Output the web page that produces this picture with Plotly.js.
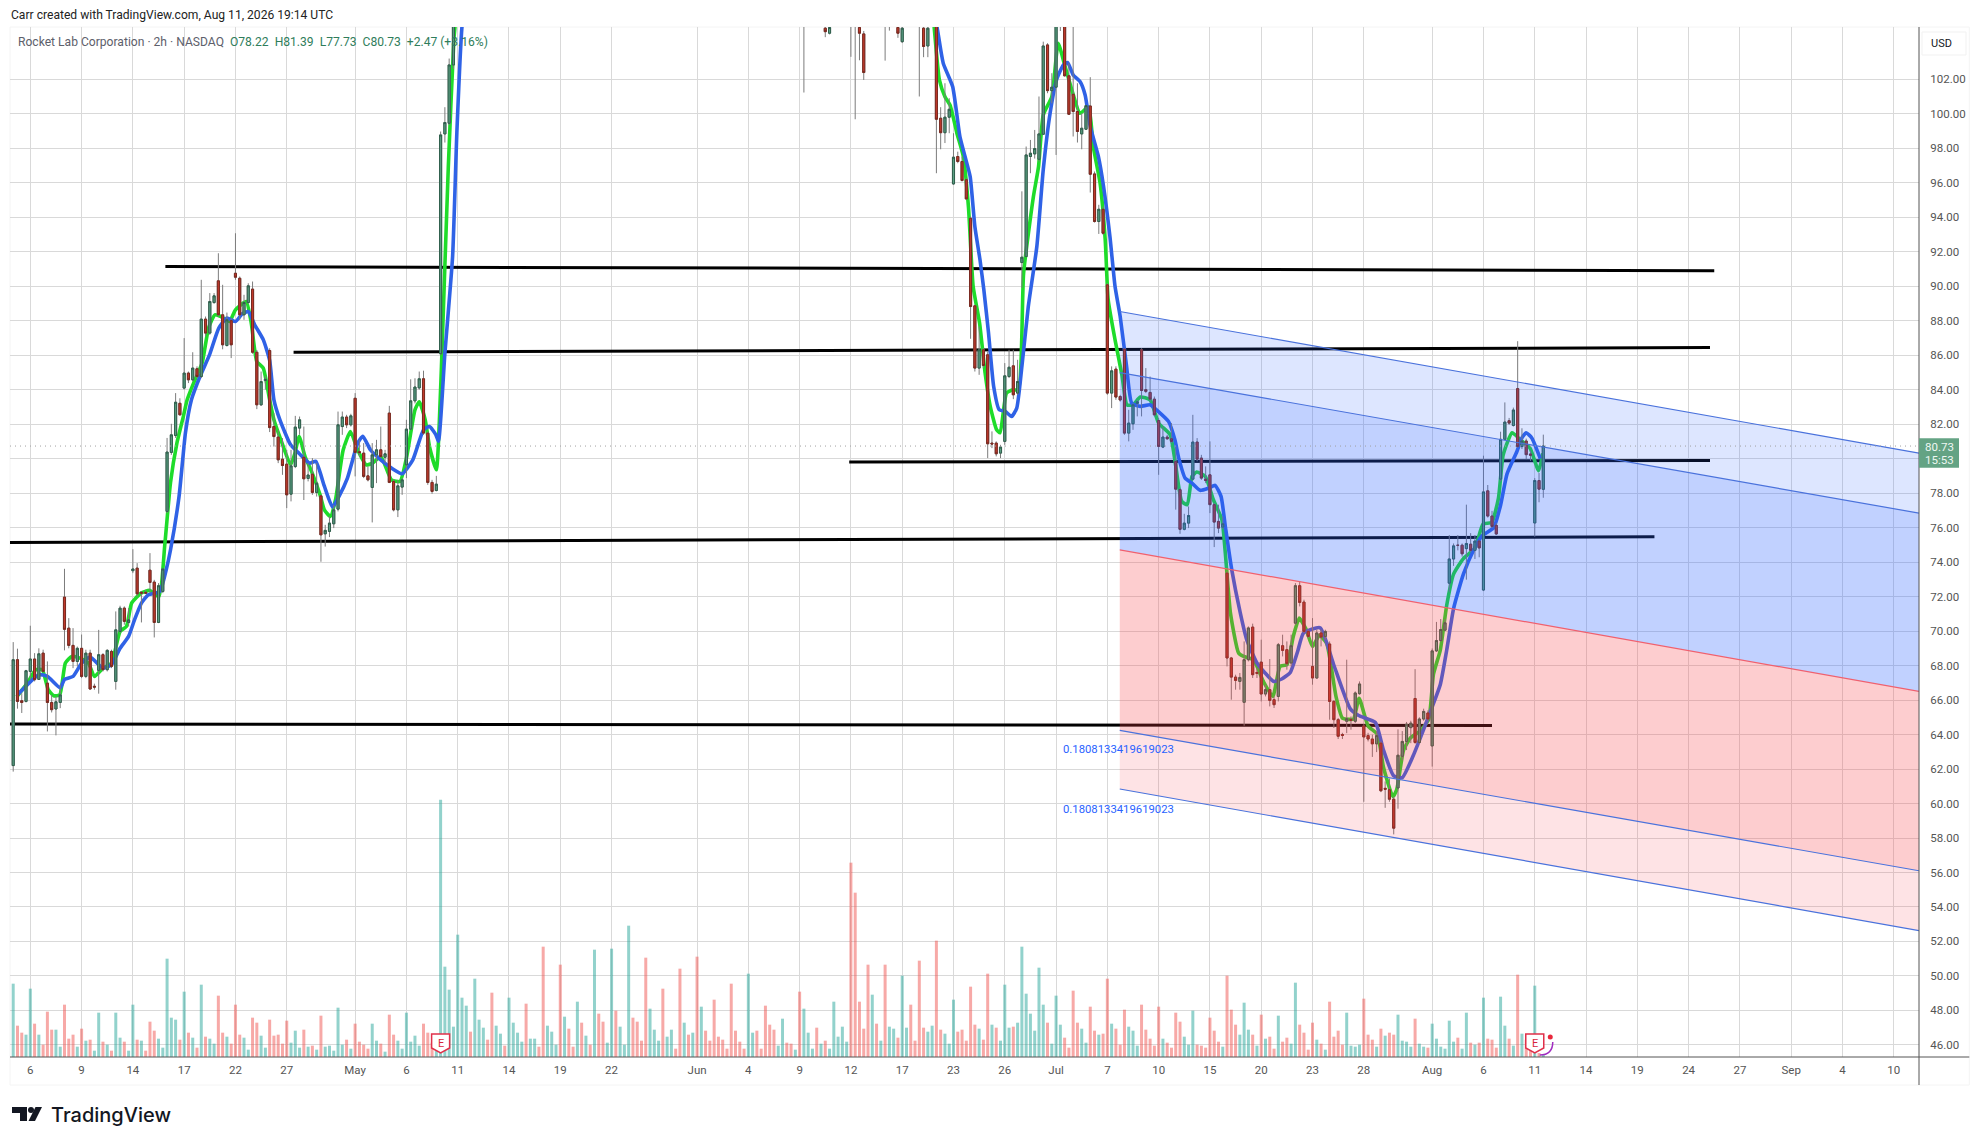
<!DOCTYPE html>
<html><head><meta charset="utf-8">
<script src="https://cdn.plot.ly/plotly-3.0.1.min.js"></script>
<style>html,body{margin:0;padding:0;background:#fff}</style></head>
<body><div id="chart" style="width:1980px;height:1145px"></div>
<script>
const _ = null;
// Bars 104-184 and other gaps sit above the visible price window: null = not readable.
const open = [
62.2,68.34,65.96,65.92,67.66,68.38,67.2,68.72,66.98,65.86,
65.48,65.86,71.97,70.17,69.17,68.24,69,67.37,68.72,66.8,
67.72,68.63,67.76,68.82,67.08,69.98,71.33,70.5,73.5,73.65,
72.25,72.25,73.53,72.84,70.5,72.3,76.94,80.36,81.34,83.21,
84.09,84.96,84.57,85.21,84.76,88.09,87.28,89.05,90.31,88.34,
86.56,88.0,90.75,90.46,88.34,89.05,89.83,86.17,83.12,84.53,
86.27,81.86,81.25,79.97,79.68,77.94,79.54,81.77,80.08,78.85,
79.1,78.04,77.84,75.64,75.78,76.22,77.07,81.86,82.41,81.96,
83.5,80.4,80.32,79.0,78.33,80.22,80.51,80.08,82.64,78.68,
77.03,78.35,79.64,81.71,83.35,84.1,84.63,81.48,78.62,78.15,
86.08,98.83,99.45,102.83,_,_,_,_,_,_,
_,_,_,_,_,_,_,_,_,_,
_,_,_,_,_,_,_,_,_,_,
_,_,_,_,_,_,_,_,_,_,
_,_,_,_,_,_,_,_,_,_,
_,_,_,_,_,_,_,_,_,_,
_,_,_,_,_,_,_,_,_,_,
_,_,_,_,_,_,_,_,_,_,
_,_,_,_,_,107,_,_,_,_,
104.96,104.67,_,_,_,_,106.5,106.5,105,104.63,
_,_,_,_,106,106,_,105,104.18,_,
_,_,106,104.96,103.93,_,105.4,99.74,98.9,99.8,
95.93,97.52,97.23,96.17,93.94,88.86,85.25,86.31,86.02,80.9,
80.9,80.32,81.0,84.76,85.38,83.8,91.37,91.72,97.52,97.67,
97.36,98.81,103.99,101.34,101.54,105.2,105.4,102.2,101.13,100.13,
98.83,99.1,100.45,96.51,93.75,94.46,90.08,83.8,85.19,83.6,
86.35,81.48,82.02,83.2,86.31,84.0,83.84,83.45,82.21,80.67,
81.25,81.15,79.84,78.2,75.9,76.26,78.81,80.96,80.03,78.81,
79.06,77.33,76.36,76.03,73.36,68.44,67.33,67.08,65.87,68.34,
70.23,67.6,68.2,66.35,66.6,66.02,66.21,69.15,68.92,68.15,
70.46,72.63,71.68,69.98,67.95,67.28,69.89,69.69,69.25,65.92,
64.86,64.0,64.77,64.88,64.77,66.37,64.5,63.94,63.74,63.46,
63.5,60.88,60.8,60.25,60.9,62.74,63.6,64.4,66.09,63.54,
64.9,65.25,63.34,68.85,69.45,70.05,72.78,74.18,74.98,74.98,
74.78,75.04,74.68,75.22,72.38,78.13,76.67,76.13,78.81,81.12,
82.2,81.92,84.06,80.7,81.02,80.27,76.27,78.73,78.22];
const high = [
69.36,68.98,66.4,67.75,70.31,68.72,69.0,68.92,68.24,66.3,
66.2,66.9,73.61,70.75,70.17,69.1,69.8,68.92,68.92,66.95,
70.07,68.72,68.95,68.92,71.14,71.47,71.43,71.33,74.75,73.94,
72.3,72.4,74.52,72.97,72.78,73.65,81.2,82.02,83.8,83.5,
86.99,85.05,86.17,85.35,90.37,88.24,89.6,89.6,91.91,90.08,
88.47,88.15,93.07,90.56,89.5,90.17,90.27,86.3,85.05,84.8,
86.4,82.64,81.67,81.19,80.51,80.51,82.48,82.44,81.86,79.74,
80.03,79.74,77.9,76.16,76.65,77.32,82.73,82.73,82.54,82.6,
83.8,81.09,80.9,79.55,80.9,81.09,81.86,80.51,83.06,78.81,
78.77,78.87,82.25,84.6,84.66,85.05,85.1,81.57,78.77,79.0,
98.97,100.38,103.2,106,_,_,_,_,_,_,
_,_,_,_,_,_,_,_,_,_,
_,_,_,_,_,_,_,_,_,_,
_,_,_,_,_,_,_,_,_,_,
_,_,_,_,_,_,_,_,_,_,
_,_,_,_,_,_,_,_,_,_,
_,_,_,_,_,_,_,_,_,_,
_,_,_,_,_,_,_,_,_,_,
_,_,_,_,_,108,_,_,_,_,
106,105.8,_,_,_,_,108,108,106,104.8,
_,_,_,_,107,107,_,106,106,_,
_,_,107,106,106,_,106,100.38,101.77,100.9,
98.87,97.8,97.52,96.26,94.04,88.92,87.66,86.4,86.22,81.58,
81.0,80.8,85.54,86.31,86.31,85.73,95.5,98.1,98.48,99.06,
101,104.18,104.09,102.35,106,106,106,102.93,106,101.77,
100.03,100.51,102.12,96.65,94.72,94.62,90.17,85.35,85.35,83.7,
86.4,82.83,83.22,83.41,86.4,85.25,84.76,83.6,82.35,81.86,
81.38,82.06,80.71,78.29,76.8,77.23,82.54,81.19,80.22,79.55,
81.0,77.42,77.33,76.65,73.46,68.5,67.47,67.57,69.4,70.27,
70.43,67.86,69.5,66.89,68.38,66.21,69.31,69.79,69.4,69.79,
72.78,72.88,71.82,70.08,70.75,70.08,70.08,70.08,69.4,66.0,
64.96,64.1,68.34,65.05,66.5,67.08,64.6,64.1,63.99,64.2,
63.6,61.28,61.45,60.4,64.3,64.2,64.73,64.8,67.79,65.0,
65.5,65.4,68.99,70.53,70.7,70.7,75.57,75.08,75.57,75.08,
77.33,75.68,75.57,75.28,80.17,78.47,76.97,76.27,81.56,83.26,
82.36,82.96,86.81,81.76,81.16,80.46,78.87,79.17,81.39];
const low = [
61.85,65.5,65.25,65.86,67.2,67.08,67.18,67.6,64.18,65.28,
63.95,65.53,68.88,69.0,67.85,67.95,67.27,67.27,66.6,66.6,
66.37,67.66,67.66,67.85,66.6,69.88,70.37,70.27,73.36,72.0,
70.5,72.16,72.2,69.63,70.46,72.2,76.84,80.22,81.2,82.5,
84.0,84.38,84.48,84.67,84.67,87.08,87.18,88.98,88.24,86.34,
86.5,85.83,90.37,88.05,88.05,88.98,86.08,82.87,83.06,84.0,
81.54,80.7,79.74,79.06,77.13,77.52,79.45,81.38,77.6,78.68,
77.9,77.8,74.02,74.9,75.45,75.97,76.94,81.38,81.77,81.86,
78.97,80.12,78.87,78.68,76.3,78.58,80.03,79.74,78.58,76.94,
76.61,77.9,78.87,81.67,83.2,84.0,81.38,78.48,77.96,78.1,
86.02,98.33,99.35,102.6,_,_,_,_,_,_,
_,_,_,_,_,_,_,_,_,_,
_,_,_,_,_,_,_,_,_,_,
_,_,_,_,_,_,_,_,_,_,
_,_,_,_,_,_,_,_,_,_,
_,_,_,_,_,_,_,_,_,_,
_,_,_,_,_,_,_,_,_,_,
_,_,_,_,_,_,_,_,_,_,
_,_,_,_,_,101.23,_,_,_,_,
104.44,104.6,_,_,_,_,103.3,99.68,103.1,101.96,
_,_,_,_,103.08,104.82,_,104.4,104.1,_,
_,_,101,103.28,103.28,_,96.55,97.94,98.3,98.87,
95.88,97.13,96.07,95.0,86.95,85.05,84.86,85.25,80.03,80.61,
80.13,80.03,80.8,84.67,83.45,83.7,89.9,91.68,96.55,97.4,
97.23,98.77,101.19,100.6,97.61,104.8,102.16,99.93,98.68,98.33,
97.94,99.06,95.43,93.69,93.03,92.98,83.7,82.93,83.41,83.31,
81.38,81.0,81.67,82.45,82.45,83.8,83.31,82.45,79.06,80.61,
81.1,80.9,77.04,75.64,75.84,75.97,78.73,79.84,78.77,78.58,
76.84,74.87,75.68,75.91,67.95,66.02,66.6,66.6,64.51,68.24,
67.28,67.28,65.92,66.21,65.63,65.54,65.92,68.53,67.76,67.95,
70.37,71.43,69.89,69.6,66.89,67.22,69.11,69.5,64.86,64.38,
63.74,63.74,64.08,64.28,64.67,66.31,60.1,63.6,62.7,62.98,
60.66,59.75,60.1,58.21,59.7,62.5,63.1,63.5,63.46,63.46,
64.8,64.8,62.14,68.79,69.39,70.0,72.28,73.78,74.68,74.32,
72.98,74.58,74.18,74.28,72.32,76.58,75.97,75.57,78.67,81.06,
81.96,81.86,80.62,80.56,79.97,79.87,75.47,77.47,77.73];
const close = [
68.34,65.92,65.86,67.7,68.38,67.18,68.68,67.66,65.86,65.44,
65.9,66.3,70.1,69.17,68.24,69.0,67.37,68.72,66.64,66.75,
68.63,67.76,68.88,67.95,70.07,71.33,70.56,70.65,73.6,72.16,
72.2,72.2,72.82,70.5,72.63,73.6,80.38,81.38,83.27,82.54,
84.96,84.57,85.25,84.76,88.09,87.28,89.11,89.44,88.34,86.6,
88.05,86.6,90.52,88.34,89.05,90.02,86.17,83.12,84.47,84.6,
81.8,81.28,79.93,79.6,77.9,79.58,81.83,82.25,78.83,79.05,
78.04,78.58,75.58,75.84,76.26,77.03,81.96,82.41,81.96,82.48,
80.36,80.35,78.97,78.77,80.22,80.51,80.12,80.28,78.62,77.03,
78.42,78.77,81.71,83.35,84.15,84.63,81.48,78.62,78.1,78.52,
98.77,99.49,102.83,105.6,_,_,_,_,_,_,
_,_,_,_,_,_,_,_,_,_,
_,_,_,_,_,_,_,_,_,_,
_,_,_,_,_,_,_,_,_,_,
_,_,_,_,_,_,_,_,_,_,
_,_,_,_,_,_,_,_,_,_,
_,_,_,_,_,_,_,_,_,_,
_,_,_,_,_,_,_,_,_,_,
_,_,_,_,_,106.5,_,_,_,_,
104.76,105.0,_,_,_,_,107,106,104.67,102.39,
_,_,_,_,106.4,105.8,_,104.67,104.96,_,
_,_,106.3,103.9,104.96,_,99.68,98.9,99.8,100.26,
97.48,97.23,96.13,95.06,88.82,85.25,86.31,85.4,80.86,80.85,
80.28,80.67,84.8,85.3,83.7,84.47,91.68,97.61,97.71,97.98,
98.83,103.93,101.34,101.54,105.4,105.6,102.2,99.97,100.13,98.97,
99.16,100.47,96.49,93.75,94.46,93.07,83.8,85.09,83.57,83.4,
81.48,82.06,83.12,83.3,83.95,83.9,83.45,82.54,80.71,81.25,
81.15,81.0,78.23,75.9,76.26,76.7,80.96,79.97,78.87,78.73,
77.33,76.32,75.97,76.22,68.44,67.33,67.14,67.31,68.34,70.18,
67.47,67.55,66.35,66.6,65.98,65.73,69.21,68.88,68.11,69.15,
72.63,71.66,69.98,69.69,67.28,69.89,69.65,69.98,65.92,64.86,
63.9,63.95,64.92,64.83,66.41,66.93,63.86,63.74,63.46,63.94,
60.74,60.83,60.25,58.57,62.8,63.6,64.6,64.66,63.54,64.9,
65.34,64.9,68.85,69.45,70.09,70.48,74.18,74.94,74.97,74.48,
75.08,74.68,75.22,74.82,78.07,76.67,76.07,75.63,81.12,82.12,
82.06,82.82,80.7,81.02,80.23,80.2,78.73,78.23,80.73];
// Volume in millions of shares
const volume = [
2.20,.94,.73,.67,2.05,1.00,.67,.37,1.36,.82,
.82,.31,1.57,.55,.67,.31,.85,.49,.52,.19,
1.33,.46,.37,.19,1.33,.58,.46,.19,1.57,.52,
.49,.19,1.06,.79,.55,.28,2.95,1.18,1.12,.52,
1.96,.73,.58,.28,2.17,.61,.55,.40,1.84,.73,
.61,.40,1.57,.67,.58,.22,1.18,1.03,.64,.28,
1.12,.64,.67,.40,1.09,.43,.79,.28,.82,.31,
.34,.22,1.24,.31,.34,.19,1.48,.37,.52,.25,
1.00,.46,.37,.25,1.00,.49,.40,.16,1.27,.67,
.49,.25,1.33,.46,.64,.34,1.00,.73,.43,.42,
7.72,2.71,2.02,.91,3.67,1.78,1.54,.76,2.35,1.12,
.88,.52,1.93,.94,.70,.34,1.78,1.03,.73,.46,
1.60,.55,.55,.31,3.31,.94,.76,.37,2.77,1.21,
.85,.31,1.66,1.03,.64,.37,3.22,1.30,1.06,.43,
3.25,1.39,.91,.37,3.94,1.18,1.06,.49,2.98,1.45,
.82,.49,2.05,.61,.82,.25,2.65,1.03,.67,.73,
3.01,1.51,.79,.49,1.72,.61,.52,.25,2.20,.79,
.46,.25,2.50,.73,.79,.25,1.54,.97,.82,.34,
1.15,.43,.40,.22,1.96,1.45,.73,.25,.88,.40,
.49,.25,1.66,.61,.91,.46,5.83,4.93,1.66,.85,
2.77,1.87,1.00,.49,2.77,.91,.85,.58,2.44,.88,
1.57,.49,2.89,.88,.76,.94,3.49,.82,.70,.40,
1.72,.76,.82,.49,2.11,.97,.85,.52,2.50,.97,
.88,.49,2.17,.88,.91,1.03,3.31,1.90,1.30,.79,
2.68,1.57,1.03,.40,1.84,.97,.58,.28,1.99,1.03,
.85,.43,1.51,.79,.67,.70,2.35,1.00,.85,.37,
1.42,.91,.79,.34,1.57,.82,.55,.34,1.51,.55,
.43,.28,1.33,1.06,.61,.37,1.39,.37,.34,.28,
1.18,.79,.46,.31,2.44,1.42,.97,.67,1.63,.82,
.67,.34,1.27,.55,.61,.25,1.24,.46,.58,.40,
2.23,.97,.73,.22,1.03,.52,.40,.22,1.66,.61,
.79,.37,1.33,.34,.31,.37,1.75,.67,.52,.31,
.85,.64,.73,.67,1.27,.49,.46,.31,1.15,.40,
.31,.28,1.00,.55,.31,.25,1.09,.46,.58,.25,
1.33,.43,.37,.43,1.78,.55,.52,.28,1.81,.94,
.55,.34,2.47,.70,.52,.42,2.14,.12,.07];
const volumeDir = (
"grrggrgrrr"+"ggrrrgrgrg"+"grgrggrggr"+"grrrgggggr"+"grgrgrggrr"+"grrrggrrgg"+"rrrrrgggrg"+"rgrgggggrg"+"rrrrggrgrr"+"ggggggrrrg"+
"gggggggrgg"+"grrggrgggg"+"rggrrgggrg"+"rrgrgrgrrg"+"grgggrrrrg"+"ggrggrrgrg"+"rgrrrrrrrr"+"rrggrrrrrg"+"grrgrgggrg"+"rgggggrrrr"+
"rgrgrggrgg"+"rrrrggrrgg"+"grrrrrgrrg"+"rgggrggggg"+"ggrgggrrrr"+"ggrrgrrgrr"+"rgggrrrrrg"+"rrrrgggrrr"+"rrrgrrrggg"+"rgrgrrgrrg"+
"grrrrgrgrr"+"rrggggrrrg"+"rgrrggggrg"+"grggggggrg"+"grgrgrrrgg"+"rgrgrrgrg").split("");

// Short moving average, read point by point: [bar index], [price]
const greenX = [0.85,3.3,5.3,6.8,8.2,9.5,10.9,12.2,13.7,15.6,17.6,19,21,23,25,26.5,27.7,29.9,31.9,34.1,35.5,36.8,38.3,39.8,40.7,42.2,44.2,45.7,47.2,48.6,50.6,52,54.5,55.7,57,58.5,60,61,62.9,64.9,65.9,66.9,68.3,69.8,71.8,72.8,74.2,75.4,77.2,78.9,80.6,82.6,84.1,86,88.5,90.5,92,94,95,96.4,97.4,99,99.9,100.2,101.8,103.1,103.5,104.5,214.5,215.5,216.7,218,219.2,220.8,222.3,223.5,224.6,226.1,227.4,228.6,230.1,230.9,232.4,233.9,235.2,236.4,238.7,239.9,241,243,244.5,245.9,247.7,249.6,251.6,252.7,254.3,255.5,256.2,257.8,259.4,260.6,262,263.7,266,268,270.7,271.9,273.4,274.7,275.8,276.9,278.9,280.8,282.8,283.6,284.8,286.7,287.9,290.2,292.5,294.7,296.4,298,299.5,300.9,302.5,304,305.6,307.3,309.5,311,312.5,313.6,314.9,317,319.2,320.6,322.8,323.7,325.3,326.9,329.2,331.2,332.3,333.9,335.4,337,339.3,342,343.9,345.9,347.5,348.6,350.7,352.6,354.9,356.9,357.9];
const greenY = [66.2,66.98,67.76,67.76,66.6,66.25,66.3,68.14,68.53,68.43,68.14,67.37,67.85,68.14,69.98,70.27,71.62,72.2,72.36,72,75.1,78.6,80.9,82.44,83.41,84.38,85.54,87.57,88.34,88.24,87.95,88.63,89.11,87.86,85.63,85.25,83.41,82.25,80.9,79.64,80.3,81.28,80.1,79.26,77.9,77.03,76.65,77.6,80.5,81.57,80.5,79.64,79.74,80.12,78.77,78.68,80.03,82.83,83.3,82.25,80.7,79.35,83.41,85.35,96.9,104.3,105.4,108,108,104.96,101.96,100.99,100.5,98.87,97.52,94.6,89.98,87.86,84.96,83.03,81.67,81.5,83.8,83.99,83.99,90.75,95.2,96.94,99.93,100.99,104.09,102.93,101.38,100.03,100.4,98.1,95.97,92.69,89.2,86.89,84.86,83.12,83.12,83.57,83.41,82.06,81.38,79.74,77.52,77.33,78.97,79.22,78.97,77.62,76.46,74.52,71.05,68.73,68.53,68.34,67.08,66.21,67.95,68.05,69.69,70.75,70.1,69.1,69.75,69.3,66.2,64.95,64.88,64.9,66.1,64.5,64,62.1,60.4,60.8,63.1,63.8,64.2,64.9,67.5,68.9,71.5,73.3,74.2,74.8,76.2,76.3,77.7,80.2,81.5,81.1,80.6,79.3,80.3];
// Long moving average
const blueX = [1,6,8,11,12,14,16,18,21,23,25,27,28.4,30,31.6,34.3,35.8,36.8,38.8,40.3,41.7,43.7,45.9,48.1,50,52,53.6,55,56.5,58.5,60,61,62.4,64.9,66.9,69.3,70.8,72.8,74.7,76.2,78.2,80.6,81.8,83.6,86,88.5,91,93.5,96,97.4,98.9,99.5,101,102.8,103.8,105,106.5,214,216.2,217.6,219.8,221.5,222.7,223.9,225,226.2,227.1,228.2,229.4,230.7,232.1,233.6,234.8,236,237.5,239.5,241,242.6,244.1,245.7,246.7,248,249.6,250.8,252,253.9,255.1,256.6,257.8,259,260.5,261.7,263.7,266,267.9,270.3,271.8,272.7,274.2,275.8,277.7,279.7,281.2,282.6,283.6,285.1,287.1,288.6,291,292.9,294.9,296.8,298.8,300.5,301.9,305.8,308.9,312.8,314.8,318.7,320.6,323,325,327.6,330,332,333.9,335.4,337,339.3,341.7,343.6,346.4,348,349.5,351.8,353,354,355.3,357.3];
const blueY = [66.3,67.47,67.37,66.7,67.2,67.37,68.14,68.49,67.85,68.05,69,69.69,70.66,71.62,72.1,72.3,73.56,74.7,77.8,81.5,83.41,84.76,86,87.57,88.15,87.95,88.4,88.53,87.76,86.9,85.7,83.41,82.25,80.8,80.3,79.74,79.84,78.4,77.2,77.8,78.87,80.9,81.3,80.5,79.93,79.45,79.12,79.93,81.67,81.86,81.38,81,86.1,91.7,98.9,105.05,108,108,104.96,102.93,101.58,98.68,97.52,96.36,93.46,91.53,89.79,87.28,84.18,82.83,82.74,82.44,82.93,85.34,88.82,92.3,96.75,100.03,101.96,102.83,102.97,102.25,101.87,101.09,99.26,97.52,95.8,92.88,89.98,88.24,85.34,83.22,83.03,83.12,82.74,82.16,81.09,80.03,78.87,78.58,78.16,78.29,78.45,77.81,76.07,73.56,71.05,69.5,68.15,67.57,67.08,67.22,67.6,68.8,69.89,70.19,68.09,65.5,65.1,64.7,63.1,61.6,61.5,62.8,64.3,65.6,66.9,68.9,71.3,73.3,74.7,75.5,76,77.3,79.1,80.4,81.2,81.5,81.2,80];

// Hand-drawn horizontal trend lines: [start bar, end bar], [start price, end price]
const trendLines = [
  {x:[35.6,398],  y:[91.14,90.9]},
  {x:[65.6,397],  y:[86.17,86.44]},
  {x:[195.6,397], y:[79.8,79.89]},
  {x:[-0.75,384], y:[75.14,75.47]},
  {x:[-0.75,346], y:[64.61,64.53]}
];
// Fibonacci channel: five parallel levels between bar 259 and the right edge
const channelX = [258.9,445.9];
const channelLevels = [[88.53,80.32],[84.99,76.84],[74.71,66.5],[64.24,56.1],[60.84,52.63]];
const channelFills = ["rgba(41,98,255,0.16)","rgba(41,98,255,0.29)","rgba(247,60,70,0.26)","rgba(247,60,70,0.14)"];
const channelLineColors = ["#4a72dc","#4a72dc","#f0606e","#4a72dc","#4a72dc"];

const tickBars = [4,16,28,40,52,64,80,92,104,116,128,140,160,172,184,196,208,220,232,244,256,268,280,292,304,316,332,344,356,368,380,392,404,416,428,440];
const tickLabels = ["6","9","14","17","22","27","May","6","11","14","19","22","Jun","4","9","12","17","23","26","Jul","7","10","15","20","23","28","Aug","6","11","14","19","24","27","Sep","4","10"];
const priceTicks = [46,48,50,52,54,56,58,60,62,64,66,68,70,72,74,76,78,80,82,84,86,88,90,92,94,96,98,100,102];
const lastPrice = 80.73;
const xRange = [-0.75,445.9], priceRange = [45.3,105.03];

const bars = open.map((v,i)=>i);
const traces = [];
traces.push({type:"bar",x:bars,y:volume,yaxis:"y",hoverinfo:"skip",showlegend:false,
  marker:{color:volumeDir.map(d=>d==="g"?"rgba(38,166,154,0.5)":"rgba(239,83,80,0.5)"),line:{width:0}}});
trendLines.forEach(t=>traces.push({type:"scatter",mode:"lines",x:t.x,y:t.y,yaxis:"y2",showlegend:false,hoverinfo:"skip",
  line:{color:"#000",width:3}}));
traces.push({type:"scatter",mode:"lines",x:greenX,y:greenY,yaxis:"y2",showlegend:false,hoverinfo:"skip",line:{color:"#1edc2a",width:3.6,shape:"spline",smoothing:0.5}});
traces.push({type:"scatter",mode:"lines",x:blueX,y:blueY,yaxis:"y2",showlegend:false,hoverinfo:"skip",line:{color:"#2f62e6",width:3.6,shape:"spline",smoothing:0.5}});
// wicks
traces.push({type:"candlestick",x:bars,open,high,low,close,yaxis:"y3",showlegend:false,hoverinfo:"skip",whiskerwidth:0,
  increasing:{line:{color:"#7c7c7c",width:1},fillcolor:"#5a9e82"},decreasing:{line:{color:"#7c7c7c",width:1},fillcolor:"#c0392b"}});
// bodies with dark outlines
const bodyHigh = open.map((o,i)=>o===null?null:Math.max(o,close[i]));
const bodyLow = open.map((o,i)=>o===null?null:Math.min(o,close[i]));
traces.push({type:"candlestick",x:bars,open,high:bodyHigh,low:bodyLow,close,yaxis:"y3",showlegend:false,hoverinfo:"skip",whiskerwidth:0,
  increasing:{line:{color:"#2f5f4c",width:1},fillcolor:"#5a9e82"},decreasing:{line:{color:"#7a2a20",width:1},fillcolor:"#c0392b"}});
// channel on top of everything
channelLevels.forEach((lv,k)=>{
  traces.push({type:"scatter",mode:"lines",x:channelX,y:lv,yaxis:"y4",showlegend:false,hoverinfo:"skip",
    line:{color:channelLineColors[k],width:1.2},
    fill:k===0?"none":"tonexty",fillcolor:k===0?undefined:channelFills[k-1]});
});

const L=10,R=1918.7,T=27,B=1057;
const pw=R-L,ph=B-T;
const px=v=>(v-L)/pw, py=v=>(B-v)/ph;
const hidden=(extra)=>Object.assign({range:priceRange,overlaying:"y",visible:false,fixedrange:true},extra||{});
const shield=(bar)=>({type:"path",xref:"x",yref:"paper",xsizemode:"pixel",ysizemode:"pixel",xanchor:bar,yanchor:0,
  path:"M-9,23 L9,23 L9,9 L0,4 L-9,9 Z",fillcolor:"#fff",line:{color:"#e0304a",width:1.5}});
const earnings=[100,356];
const logoBase={type:"path",xref:"paper",yref:"paper",xsizemode:"pixel",ysizemode:"pixel",xanchor:0,yanchor:0,fillcolor:"#131722",line:{width:0}};

const shapes=[
  {type:"rect",xref:"paper",yref:"paper",x0:0,x1:px(1969),y0:py(1085),y1:1,line:{color:"#f4f4f4",width:1},fillcolor:"rgba(0,0,0,0)",layer:"below"},
  {type:"line",xref:"paper",yref:"y2",x0:0,x1:1,y0:lastPrice,y1:lastPrice,line:{color:"#a0a0a0",width:1,dash:"1px,4px"}},
  {type:"line",xref:"paper",yref:"paper",x0:0,x1:px(1969),y0:0,y1:0,line:{color:"#555",width:1}},
  {type:"line",xref:"paper",yref:"paper",x0:1,x1:1,y0:py(1085),y1:1,line:{color:"#555",width:1}},
  ...earnings.map(shield),
  {type:"path",xref:"x",yref:"paper",xsizemode:"pixel",ysizemode:"pixel",xanchor:356,yanchor:0,path:"M18,15 Q18,2 5,2",line:{color:"#a02cc0",width:1.5}},
  {type:"circle",xref:"x",yref:"paper",xsizemode:"pixel",ysizemode:"pixel",xanchor:356,yanchor:0,x0:13,x1:18,y0:17.5,y1:22.5,fillcolor:"#e8283c",line:{width:0}},
  {type:"rect",xref:"paper",yref:"paper",x0:px(1921.7),x1:px(1965.7),y0:py(55),y1:py(32),line:{color:"#f1f1f1",width:1},fillcolor:"#fff"},
  {type:"rect",xref:"paper",yref:"paper",x0:px(1918.7),x1:px(1958.7),y0:py(467.7),y1:py(438.3),line:{width:0},fillcolor:"#64a384"},
  Object.assign({},logoBase,{path:"M2,-50 L17,-50 L17,-64 L10,-64 L10,-56 L2,-56 Z"}),
  Object.assign({},logoBase,{path:"M25.5,-50 L32,-50 L25,-64 L18.5,-64 Z"}),
  {type:"circle",xref:"paper",yref:"paper",xsizemode:"pixel",ysizemode:"pixel",xanchor:0,yanchor:0,x0:18,x1:24,y0:-56,y1:-50,fillcolor:"#131722",line:{width:0}}
];
const txt=(text,x,y,size,color,anchor,extra)=>Object.assign({xref:"paper",yref:"paper",x:px(x),y:py(y),text,showarrow:false,
  xanchor:anchor||"left",yanchor:"middle",font:{family:"Roboto, sans-serif",size,color}},extra||{});
const up="#2f7d5b";
const annotations=[
  txt("Carr created with TradingView.com, Aug 11, 2026 19:14 UTC",9,15,12.1,"#222"),
  txt("Rocket Lab Corporation · 2h · NASDAQ  <span style=\"color:"+up+"\">O78.22  H81.39  L77.73  C80.73  +2.47 (+3.16%)</span>",15.5,42,12.1,"#5d606b"),
  txt("0.1808133419619023",1118,749,11.3,"#2962ff","center"),
  txt("0.1808133419619023",1118,809,11.3,"#2962ff","center"),
  txt("USD",1941,44,11,"#131722","center"),
  txt("80.73",1938.7,447,11.5,"#eef7f2","center"),
  txt("15:53",1938.7,460,11.5,"#eef7f2","center"),
  ...earnings.map(b=>({xref:"x",yref:"paper",x:b,y:py(1043),text:"E",showarrow:false,xanchor:"center",yanchor:"middle",font:{family:"Roboto, sans-serif",size:11,color:"#d8243c"}})),
  Object.assign(txt("TradingView",49,1115,20,"#131722"),{font:{family:"Inter, sans-serif",size:20,color:"#131722",weight:500}})
];

const layout={
  width:1980,height:1145,autosize:false,
  margin:{l:L,r:1980-R,t:T,b:1145-B,pad:0},
  paper_bgcolor:"#fff",plot_bgcolor:"#fff",
  showlegend:false,barmode:"overlay",bargap:0.3,boxgap:0.3,
  xaxis:{type:"linear",range:xRange,tickmode:"array",tickvals:tickBars,ticktext:tickLabels,showgrid:true,gridcolor:"#d9d9d9",gridwidth:1,
    zeroline:false,showline:false,ticks:"outside",ticklen:2,tickcolor:"rgba(0,0,0,0)",
    tickfont:{family:"Roboto, sans-serif",size:11.5,color:"#555"},rangeslider:{visible:false},fixedrange:true},
  yaxis:{range:[0,30.9],visible:false,fixedrange:true},
  yaxis2:{range:priceRange,overlaying:"y",side:"right",tickmode:"array",tickvals:priceTicks,
    ticktext:priceTicks.map(p=>p===80?"":p.toFixed(2)),showgrid:true,gridcolor:"#d9d9d9",gridwidth:1,zeroline:false,showline:false,
    ticks:"outside",ticklen:8,tickcolor:"rgba(0,0,0,0)",tickfont:{family:"Roboto, sans-serif",size:11.5,color:"#555"},fixedrange:true},
  yaxis3:hidden(),yaxis4:hidden(),
  shapes,annotations
};
Plotly.newPlot("chart",traces,layout,{staticPlot:true,displayModeBar:false});
</script></body></html>
